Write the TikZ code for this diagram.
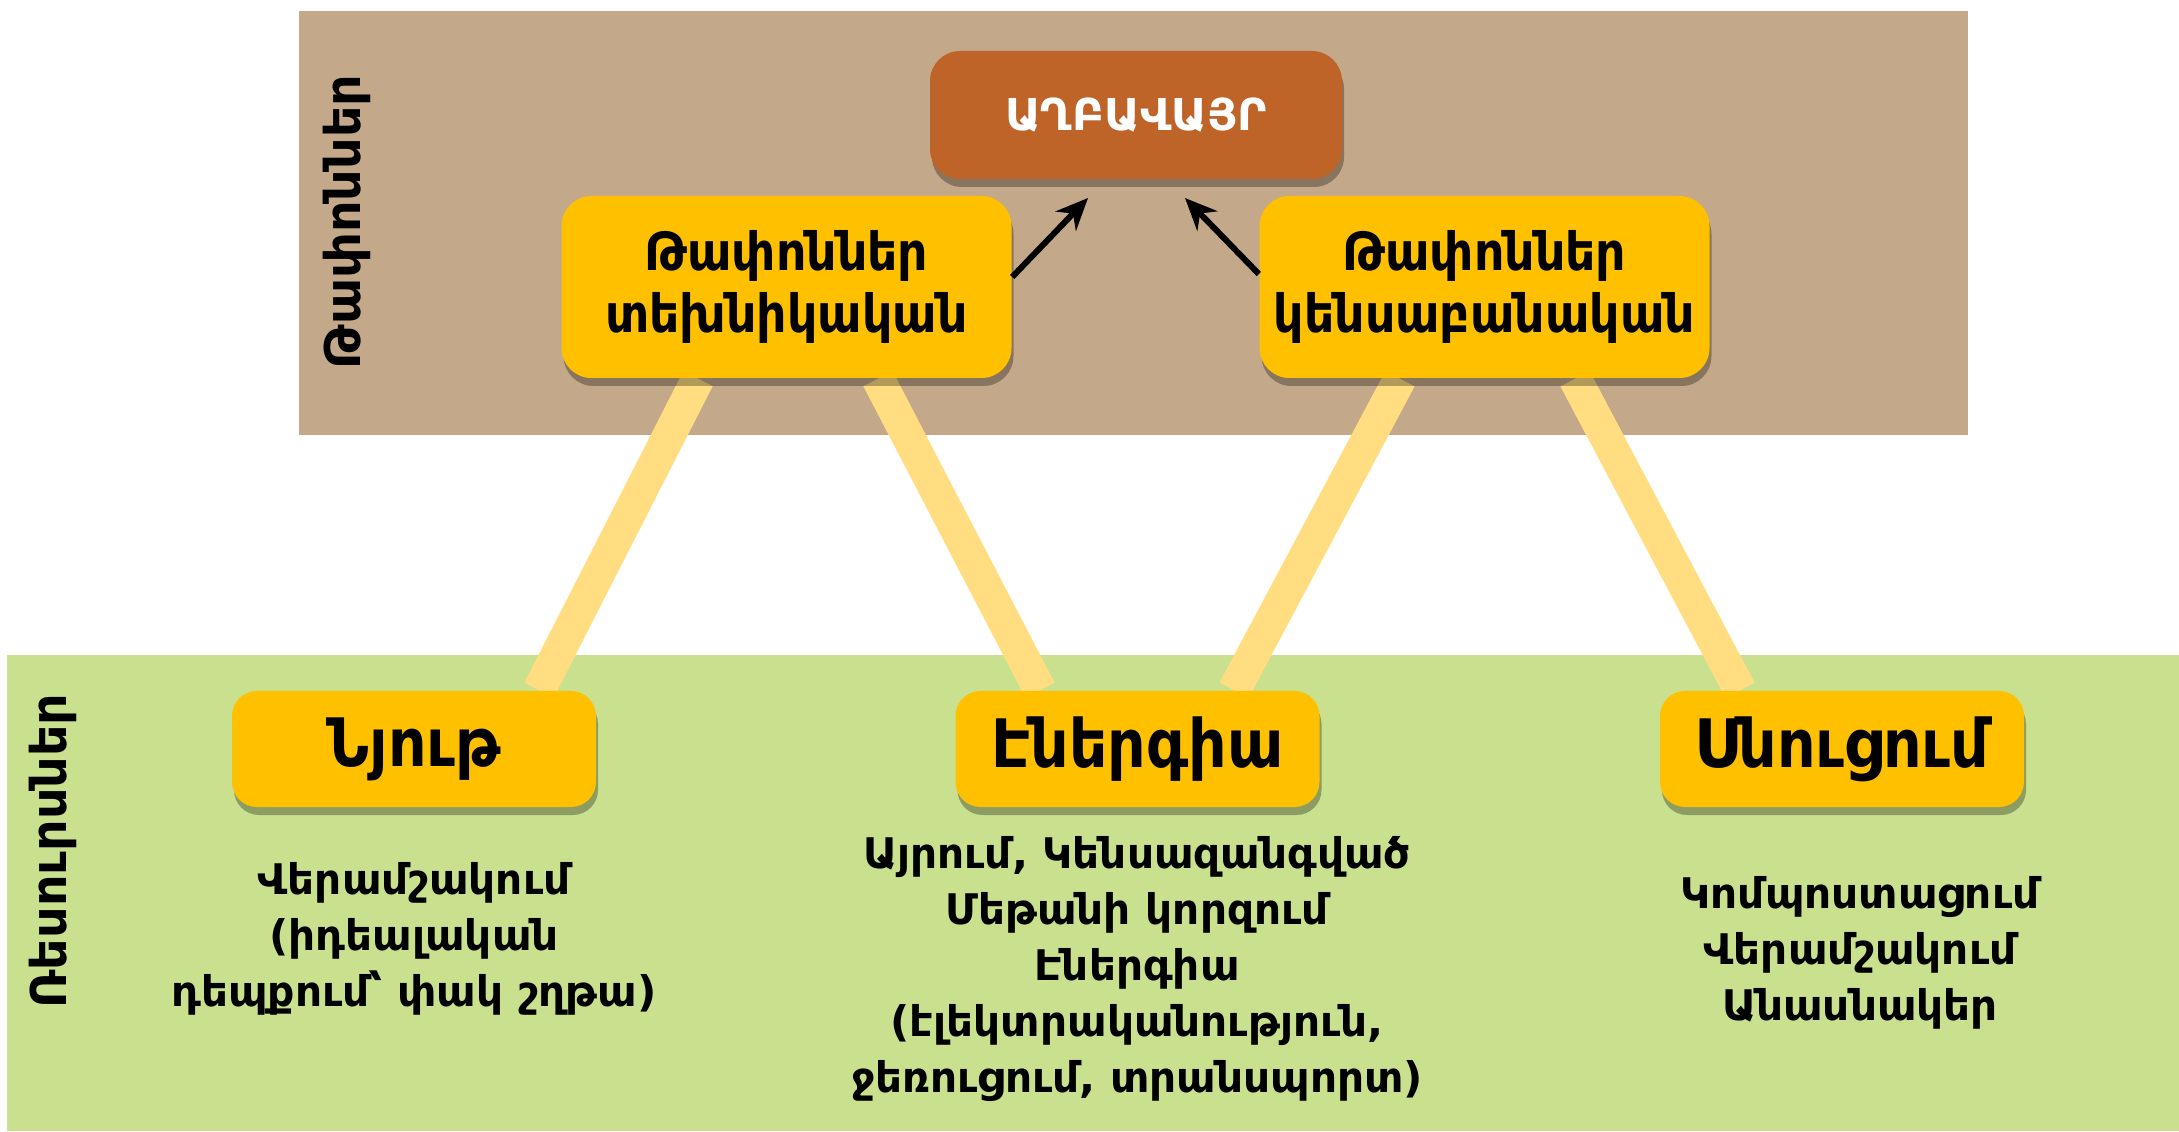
\documentclass[tikz,border=0pt]{standalone}
\usepackage{fontspec}
\setmainfont{DejaVu Sans}
\newfontfamily\boxfont{DejaVu Sans Condensed}
\usetikzlibrary{shapes, arrows.meta, positioning, shadows, backgrounds}
\definecolor{wastebg}{HTML}{C4A88A}
\definecolor{resbg}{HTML}{C9E08F}
\definecolor{boxyellow}{HTML}{FFC000}
\definecolor{linkyellow}{HTML}{FFDD80}
\definecolor{dumpbrown}{HTML}{BE6428}
\tikzset{
    shadowed/.style={drop shadow={shadow xshift=0.02cm, shadow yshift=-0.08cm, opacity=0.3, fill=black}},
    waste/.style={rectangle, rounded corners=0.3cm, fill=boxyellow, align=center, shadowed, minimum width=4.5cm, minimum height=1.82cm, font=\boxfont\bfseries\fontsize{15}{17.5}\selectfont},
    resource/.style={rectangle, rounded corners=0.25cm, fill=boxyellow, align=center, shadowed, minimum width=3.64cm, minimum height=1.16cm, font=\boxfont\bfseries\fontsize{19}{22}\selectfont},
    dump/.style={rectangle, rounded corners=0.3cm, fill=dumpbrown, text=white, shadowed, minimum width=4.12cm, minimum height=1.28cm, font=\bfseries\fontsize{12.5}{15}\selectfont},
    note/.style={align=center, font=\bfseries\fontsize{12}{16}\selectfont},
    side/.style={rotate=90, font=\bfseries\fontsize{14}{16}\selectfont},
    link/.style={line width=0.33cm, linkyellow},
    arrow/.style={line width=1.7pt, -{Stealth[length=0.32cm, width=0.28cm]}}
}
\begin{document}
\begin{tikzpicture}
    \useasboundingbox (0,0) rectangle (21.79,11.31);
    % Bands
    \begin{scope}[on background layer]
        \fill[wastebg] (2.99,6.96) rectangle (19.68,11.20);
        \fill[resbg] (0.07,0) rectangle (21.79,4.76);
    \end{scope}
    \node (waste_label) [side] at (3.47,9.09) {Թափոններ};
    \node (res_label) [side] at (0.53,2.80) {Ռեսուրսներ};

    % Waste
    \node (dump) [dump] at (11.36,10.16) {ԱՂԲԱՎԱՅՐ};
    \node (tech) [waste] at (7.865,8.44) {Թափոններ\\տեխնիկական};
    \node (bio) [waste] at (14.845,8.44) {Թափոններ\\կենսաբանական};
    \coordinate (tech_tip) at (10.88,9.33);
    \coordinate (bio_tip) at (11.85,9.33);

    % Resources
    \node (matter) [resource] at (4.14,3.82) {Նյութ};
    \node (energy) [resource] at (11.375,3.82) {Էներգիա};
    \node (food) [resource] at (18.42,3.82) {Սնուցում};

    % Links
    \begin{scope}[on background layer]
        \draw[link] ([xshift=-0.885cm]tech.south) -- ([xshift=1.25cm]matter.north);
        \draw[link] ([xshift=0.915cm]tech.south) -- ([xshift=-0.975cm]energy.north);
        \draw[link] ([xshift=-0.845cm]bio.south) -- ([xshift=0.965cm]energy.north);
        \draw[link] ([xshift=0.905cm]bio.south) -- ([xshift=-1.02cm]food.north);
    \end{scope}
    \draw[arrow] ([yshift=1mm]tech.east) -- (tech_tip);
    \draw[arrow] ([yshift=1.3mm]bio.west) -- (bio_tip);

    \node (matter_note) [note] at (4.14,1.92) {Վերամշակում\\(իդեալական\\դեպքում՝ փակ շղթա)};
    \node (energy_note) [note] at (11.37,1.62) {Այրում, Կենսազանգված\\Մեթանի կորզում\\Էներգիա\\(էլեկտրականություն,\\ջեռուցում, տրանսպորտ)};
    \node (food_note) [note] at (18.60,1.78) {Կոմպոստացում\\Վերամշակում\\Անասնակեր};
\end{tikzpicture}
\end{document}
